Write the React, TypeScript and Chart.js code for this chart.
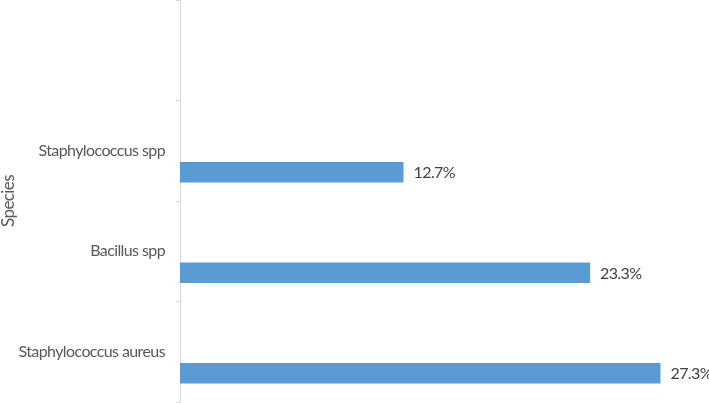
import React, { useEffect, useRef } from "react";
import { Chart, registerables } from "chart.js";

Chart.register(...registerables);

const categories: string[] = ["", "Staphylococcus spp", "Bacillus spp", "Staphylococcus aureus"];
const spacerValues: (number | null)[] = [null, null, null, null];
const percentValues: (number | null)[] = [null, 12.7, 23.3, 27.3];
const axisTitle = "Species";

const FONT = "Lato, 'Liberation Sans', sans-serif";
const SPACING = "-0.6px";

const spacingPlugin = {
  id: "tightText",
  beforeInit(chart: any) {
    chart.ctx.letterSpacing = SPACING;
  },
  beforeDraw(chart: any) {
    chart.ctx.letterSpacing = SPACING;
  },
};

const labelPlugin = {
  id: "barValueLabels",
  afterDatasetsDraw(chart: any) {
    const ctx = chart.ctx;
    const meta = chart.getDatasetMeta(1);
    ctx.save();
    ctx.letterSpacing = "-0.6px";
    ctx.font = `16px ${FONT}`;
    ctx.fillStyle = "#404040";
    ctx.textAlign = "left";
    ctx.textBaseline = "middle";
    meta.data.forEach((bar: any, i: number) => {
      const v = percentValues[i];
      if (v == null) return;
      ctx.fillText(`${v.toFixed(1)}%`, bar.x + 10, bar.y + 1);
    });
    ctx.restore();
  },
};

export default function App() {
  const ref = useRef<HTMLCanvasElement>(null);
  useEffect(() => {
    if (!ref.current) return;
    const chart = new Chart(ref.current, {
      type: "bar",
      data: {
        labels: categories,
        datasets: [
          { data: spacerValues, backgroundColor: "rgba(0,0,0,0)" },
          { data: percentValues, backgroundColor: "#5b9bd5" },
        ],
      },
      options: {
        indexAxis: "y",
        animation: false,
        responsive: false,
        maintainAspectRatio: false,
        layout: { padding: { top: 0, right: 1, bottom: 1, left: 0 } },
        datasets: {
          bar: { categoryPercentage: 0.854, barPercentage: 0.477 },
        },
        plugins: {
          legend: { display: false },
          tooltip: { enabled: false },
        },
        scales: {
          x: { display: false, min: 0, max: 30 },
          y: {
            afterFit: (scale: any) => {
              scale.width = 180;
              scale.paddingTop = 0;
              scale.paddingBottom = 0;
            },
            border: { display: true, color: "#d9d9d9", width: 1 },
            grid: {
              display: true,
              offset: true,
              drawOnChartArea: false,
              drawTicks: true,
              tickLength: 4,
              color: "#d9d9d9",
            },
            ticks: {
              padding: 11,
              color: "#595959",
              font: { family: FONT, size: 16 },
            },
            title: {
              display: true,
              text: axisTitle,
              color: "#595959",
              font: { family: FONT, size: 17, lineHeight: 1 },
              padding: { top: 0, bottom: 0 },
            },
          },
        },
      },
      plugins: [spacingPlugin, labelPlugin],
    });
    return () => chart.destroy();
  }, []);
  return (
    <div style={{ position: "fixed", left: 0, top: 0, width: 709, height: 403, background: "#fff" }}>
      <canvas ref={ref} width={709} height={403} style={{ display: "block" }} />
    </div>
  );
}
